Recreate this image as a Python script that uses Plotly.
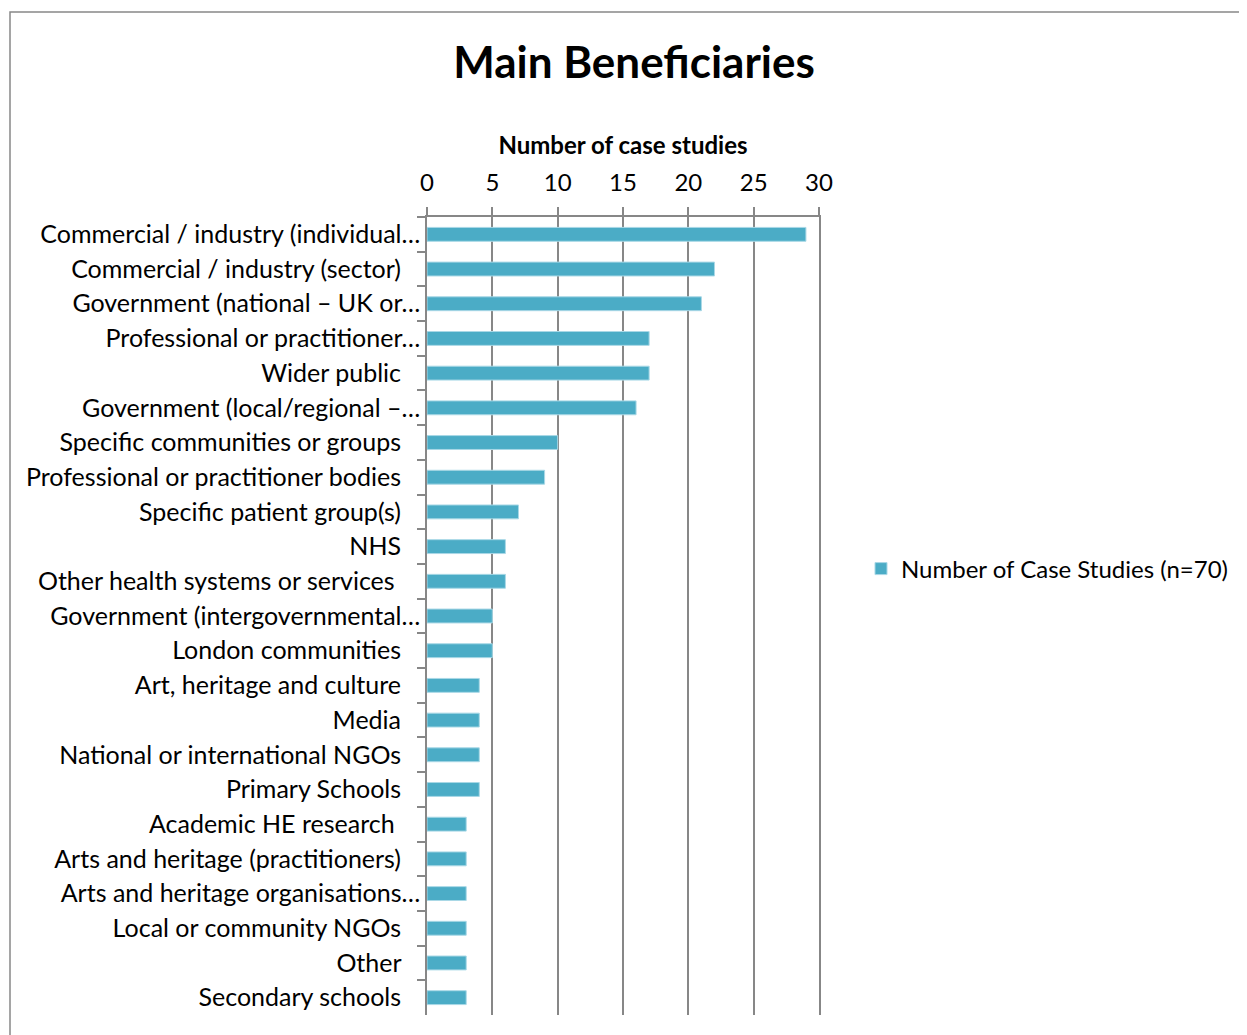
import plotly.graph_objects as go

# Beneficiary categories, top to bottom as shown
categories = [
    "Commercial / industry (individual…",
    "Commercial / industry (sector)",
    "Government (national – UK or…",
    "Professional or practitioner…",
    "Wider public",
    "Government (local/regional –…",
    "Specific communities or groups",
    "Professional or practitioner bodies",
    "Specific patient group(s)",
    "NHS",
    "Other health systems or services ",
    "Government (intergovernmental…",
    "London communities",
    "Art, heritage and culture",
    "Media",
    "National or international NGOs",
    "Primary Schools",
    "Academic HE research ",
    "Arts and heritage (practitioners)",
    "Arts and heritage organisations…",
    "Local or community NGOs",
    "Other",
    "Secondary schools",
]
case_studies = [29, 22, 21, 17, 17, 16, 10, 9, 7, 6, 6, 5, 5, 4, 4, 4, 4, 3, 3, 3, 3, 3, 3]
x_ticks = [0, 5, 10, 15, 20, 25, 30]

series_name = "Number of Case Studies (n=70)"
chart_title = "Main Beneficiaries"
axis_title = "Number of case studies"

FONT = "Lato, Calibri, sans-serif"
BAR = "#4BACC6"
GRID = "#878787"

# Excel leaves a gap after untruncated labels
def pad(label):
    label = label.replace(" ", "\u00a0") if label.endswith(" ") else label
    return label if label.endswith("…") else label + "\u00a0\u00a0\u00a0"

labels = [pad(c) for c in categories]

fig = go.Figure()
fig.add_trace(go.Bar(
    y=labels,
    x=case_studies,
    orientation="h",
    name=series_name,
    marker=dict(color=BAR, line=dict(color="#A9D8E6", width=1)),
    showlegend=True,
))

# page is drawn with the browser's 8px body margin
OFF = 8
W, H = 1247 - OFF, 1035 - OFF
left, right, top, bottom = 427 - OFF, 819 - OFF, 217 - OFF, 1015 - OFF
pw, ph = right - left, bottom - top

fig.update_layout(
    width=W, height=H,
    margin=dict(l=left, r=W - right, t=top, b=H - bottom, pad=0),
    paper_bgcolor="white", plot_bgcolor="white",
    font=dict(family=FONT, size=24, color="black"),
    bargap=0.6,
    title=dict(text="<b>%s</b>" % chart_title, x=(634 - OFF) / W, xanchor="center",
               y=1 - (63 - OFF) / H, yanchor="middle",
               font=dict(family=FONT, size=44, color="black")),
    showlegend=True,
    legend=dict(x=(861 - OFF - left) / pw, xanchor="left", y=1 - (569 - OFF - top) / ph, yanchor="middle",
                font=dict(family=FONT, size=24), itemwidth=30, bgcolor="rgba(0,0,0,0)"),
    xaxis=dict(
        side="top", range=[0, 30], tickvals=x_ticks, ticktext=[str(v) for v in x_ticks],
        showgrid=True, gridcolor=GRID, gridwidth=1.5,
        showline=True, linecolor=GRID, linewidth=1.5,
        ticks="outside", ticklen=8, tickcolor=GRID, tickwidth=1.5,
        ticklabelstandoff=7,
        zeroline=False, fixedrange=True,
        tickfont=dict(family=FONT, size=24),
        title=dict(text="<b>%s</b>" % axis_title, font=dict(family=FONT, size=24), standoff=5),
    ),
    yaxis=dict(
        autorange="reversed", showgrid=False,
        showline=True, linecolor=GRID, linewidth=1.5, mirror=True,
        ticks="outside", ticklen=8, tickcolor=GRID, tickwidth=1.5,
        tickson="boundaries", fixedrange=True,
        tickfont=dict(family=FONT, size=25),
    ),
)

# outer chart-area border (cut off at right and bottom in the reference)
fig.add_shape(type="rect", xref="paper", yref="paper",
              x0=(10 - OFF - left) / pw, x1=(W + 20 - left) / pw,
              y0=1 + (top - (12 - OFF)) / ph, y1=-(H + 20 - bottom) / ph,
              line=dict(color="#888888", width=1.5), layer="below")

fig.write_html("out.html")
